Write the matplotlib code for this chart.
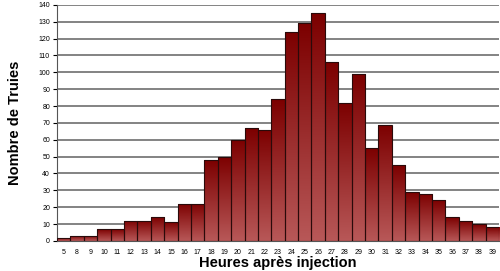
import matplotlib
matplotlib.use("Agg")
import matplotlib.pyplot as plt
import numpy as np
from matplotlib.colors import LinearSegmentedColormap

heures = ["5", "8", "9", "10", "11", "12", "13", "14", "15", "16", "17", "18", "19",
          "20", "21", "22", "23", "24", "25", "26", "27", "28", "29", "30", "31",
          "32", "33", "34", "35", "36", "37", "38", "39"]
truies = [2, 3, 3, 7, 7, 12, 12, 14, 11, 22, 22, 48, 50, 60, 67, 66, 84, 124, 129,
          135, 106, 82, 99, 55, 69, 45, 29, 28, 24, 14, 12, 10, 8]
yticks = list(range(0, 141, 10))

plt.rcParams["font.family"] = ["Liberation Sans", "DejaVu Sans"]

fig = plt.figure(figsize=(5, 2.71), dpi=100)
ax = fig.add_axes([0.114, 0.111, 0.884, 0.871])

x = np.arange(len(heures))
bars = ax.bar(x, truies, width=1.0, color="none", edgecolor="#2a0a0a", linewidth=0.8, zorder=3)

# degrade vertical : rouge fonce en haut, plus clair en bas
cmap = LinearSegmentedColormap.from_list("rouge", ["#b85858", "#7c0000"])
grad = np.linspace(0, 1, 256).reshape(-1, 1)
for b in bars:
    x0 = b.get_x()
    h = b.get_height()
    im = ax.imshow(grad, cmap=cmap, origin="lower", aspect="auto",
                   extent=[x0, x0 + b.get_width(), 0, h], zorder=2)
    im.set_clip_path(b)

ax.set_xlim(-0.5, len(heures) - 0.5)
ax.set_ylim(0, 140)
ax.set_yticks(yticks)
ax.set_yticklabels([str(v) for v in yticks], fontsize=5)
ax.set_xticks(x)
ax.set_xticklabels(heures, fontsize=5)
ax.tick_params(axis="x", length=0, pad=6)
ax.tick_params(axis="y", length=3, width=0.8, pad=2)

ax.yaxis.grid(True, color="#7a7a7a", linewidth=1.3, zorder=0)
ax.set_axisbelow(True)
for s in ["top", "right"]:
    ax.spines[s].set_visible(False)
ax.spines["left"].set_color("#555555")
ax.spines["bottom"].set_color("#555555")

ax.set_xlabel("Heures après injection", fontsize=10.5, fontweight="bold", labelpad=0)
ax.set_ylabel("Nombre de Truies", fontsize=10.5, fontweight="bold", labelpad=12)

fig.savefig("out.png", dpi=100)
